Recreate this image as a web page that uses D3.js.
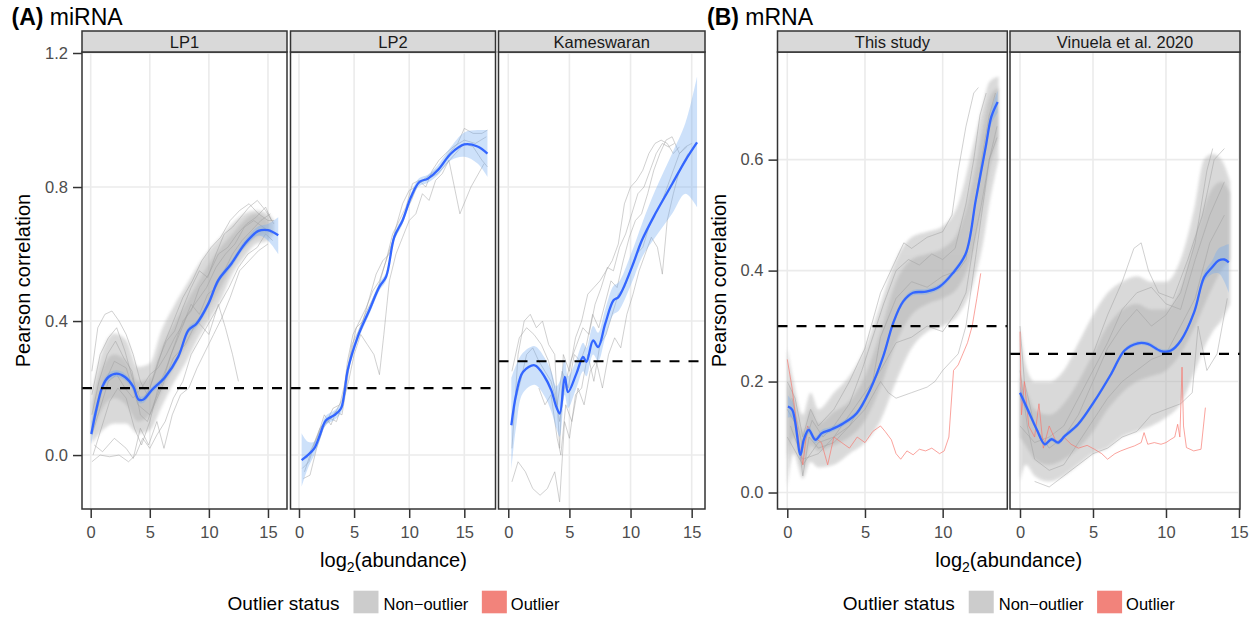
<!DOCTYPE html>
<html>
<head>
<meta charset="utf-8">
<script src="https://cdn.jsdelivr.net/npm/d3@7"></script>
<style>
  body { margin: 0; background: #fff; }
  svg text { font-family: "Liberation Sans", Arial, Helvetica, sans-serif; }
</style>
</head>
<body>
<svg id="chart" width="1249" height="619"></svg>
<script>
// ---------- data ----------
const xTicks = [0, 5, 10, 15]
const yTicksA = [0.0, 0.4, 0.8, 1.2]
const yTicksB = [0.0, 0.2, 0.4, 0.6]
const panelsA = ["LP1", "LP2", "Kameswaran"]
const panelsB = ["This study", "Vinuela et al. 2020"]
const cutoffsA = [0.2, 0.2, 0.28]
const cutoffsB = [0.3, 0.25]
const legendLabels = ["Non\u2212outlier", "Outlier"]

// smooth fit: [x, y, lower, upper]
const lp1Fit = [[0.05,0.063,0.03,0.1],[0.5,0.14,0.125,0.155],[1.0,0.205,0.193,0.217],[1.5,0.233,0.222,0.244],
  [2.2,0.243,0.233,0.253],[2.9,0.233,0.223,0.243],[3.6,0.204,0.194,0.214],[4.05,0.166,0.156,0.176],
  [4.47,0.166,0.156,0.176],[5.17,0.194,0.185,0.203],[6.3,0.233,0.224,0.242],[7.4,0.293,0.284,0.302],
  [8.27,0.373,0.364,0.382],[8.97,0.393,0.384,0.402],[9.96,0.452,0.443,0.461],[10.8,0.522,0.513,0.531],
  [11.9,0.571,0.561,0.581],[13.05,0.631,0.62,0.642],[14.2,0.669,0.655,0.683],[15.0,0.671,0.64,0.69],
  [15.87,0.656,0.6,0.71]]
const lp2Fit = [[0.24,-0.015,-0.095,0.065],[0.8,0.0,-0.04,0.04],[1.39,0.02,0.0,0.04],[1.9,0.06,0.045,0.075],
  [2.45,0.104,0.09,0.118],[3.2,0.119,0.105,0.133],[3.81,0.139,0.125,0.153],[4.11,0.184,0.17,0.198],
  [4.42,0.253,0.24,0.266],[5.33,0.353,0.34,0.366],[6.38,0.432,0.42,0.444],[7.29,0.502,0.49,0.514],
  [7.9,0.532,0.52,0.544],[8.65,0.651,0.64,0.662],[9.41,0.701,0.69,0.712],[10.16,0.77,0.758,0.782],
  [10.92,0.815,0.803,0.827],[11.68,0.825,0.813,0.837],[12.59,0.85,0.835,0.865],[13.79,0.9,0.88,0.92],
  [15.0,0.927,0.89,0.963],[16.2,0.921,0.87,0.97],[17.1,0.9,0.83,0.97]]
const kamFit = [[0.25,0.089,-0.045,0.23],[0.66,0.184,0.09,0.27],[1.2,0.248,0.185,0.305],[2.16,0.268,0.21,0.325],
  [2.98,0.233,0.175,0.29],[3.52,0.193,0.13,0.25],[3.93,0.144,0.08,0.205],[4.21,0.124,0.055,0.22],
  [4.62,0.233,0.18,0.285],[4.89,0.188,0.14,0.235],[5.57,0.243,0.2,0.285],[6.12,0.293,0.25,0.335],
  [6.39,0.278,0.235,0.32],[6.94,0.342,0.3,0.385],[7.35,0.322,0.28,0.365],[7.93,0.392,0.35,0.435],
  [8.61,0.462,0.42,0.505],[9.02,0.472,0.43,0.515],[10.11,0.561,0.515,0.607],[10.93,0.641,0.59,0.69],
  [12.02,0.72,0.65,0.79],[13.4,0.809,0.72,0.9],[14.48,0.879,0.78,0.99],[15.44,0.933,0.74,1.13]]
const studyFit = [[0.04,0.155,0.135,0.175],[0.32,0.149,0.135,0.163],[0.85,0.068,0.058,0.078],[1.06,0.095,0.087,0.103],
  [1.38,0.113,0.106,0.12],[1.81,0.095,0.089,0.101],[2.23,0.107,0.101,0.113],[2.77,0.113,0.108,0.118],
  [3.62,0.125,0.12,0.13],[4.47,0.143,0.138,0.148],[5.32,0.185,0.18,0.19],[6.17,0.245,0.24,0.25],
  [6.81,0.305,0.3,0.31],[7.45,0.344,0.339,0.349],[8.09,0.36,0.355,0.365],[8.94,0.362,0.357,0.367],
  [9.79,0.371,0.366,0.376],[10.64,0.395,0.39,0.4],[11.49,0.431,0.425,0.437],[12.13,0.527,0.52,0.534],
  [12.77,0.623,0.613,0.633],[13.13,0.677,0.664,0.69],[13.54,0.704,0.685,0.724]]
const vinuelaFit = [[0,0.18,0.168,0.192],[0.57,0.147,0.14,0.154],[1.14,0.114,0.109,0.119],[1.7,0.087,0.083,0.091],
  [2.16,0.096,0.092,0.1],[2.61,0.09,0.086,0.094],[3.07,0.102,0.098,0.106],[3.98,0.123,0.119,0.127],
  [5.11,0.165,0.161,0.169],[6.25,0.214,0.21,0.218],[7.16,0.256,0.252,0.26],[8.07,0.269,0.265,0.273],
  [8.75,0.268,0.264,0.272],[9.66,0.255,0.251,0.259],[10.34,0.256,0.252,0.26],[11.02,0.274,0.27,0.278],
  [11.93,0.325,0.32,0.33],[12.61,0.388,0.38,0.396],[13.16,0.406,0.394,0.418],[13.6,0.418,0.395,0.44],
  [14.0,0.42,0.38,0.445],[14.3,0.415,0.36,0.448]]

// dense bundle of per-sample curves: [x, lower, upper]
const lp1Outer = [[0.1,0.035,0.19],[1,0.074,0.313],[2,0.094,0.363],[3,0.094,0.343],[4,0.064,0.263],[5,0.074,0.273],
  [6,0.144,0.373],[7,0.214,0.442],[8,0.273,0.502],[9,0.343,0.561],[10,0.402,0.611],[11,0.462,0.651],
  [12,0.541,0.691],[13,0.591,0.72],[14,0.631,0.73],[15,0.64,0.72],[15.5,0.66,0.7]]
const lp1Inner = [[0.1,0.06,0.15],[1,0.14,0.26],[2,0.17,0.3],[3,0.15,0.28],[4,0.1,0.22],[5,0.12,0.23],
  [6,0.19,0.32],[7,0.26,0.39],[8,0.32,0.45],[9,0.38,0.51],[10,0.44,0.57],[11,0.5,0.62],[12,0.57,0.66],
  [13,0.62,0.7],[14,0.65,0.72],[15,0.66,0.7]]
const studyOuter = [[0,0.01,0.26],[0.4,0.07,0.2],[1,0.025,0.14],[1.5,0.055,0.18],[2,0.045,0.15],[3,0.05,0.18],
  [4,0.07,0.21],[5,0.09,0.26],[6,0.13,0.34],[7,0.2,0.42],[8,0.26,0.46],[9,0.29,0.47],[10,0.3,0.48],
  [11,0.32,0.52],[12,0.38,0.63],[12.6,0.45,0.7],[13,0.52,0.74],[13.6,0.6,0.75]]
const studyInner = [[0,0.06,0.2],[0.4,0.1,0.17],[1,0.045,0.11],[1.5,0.085,0.15],[2,0.075,0.125],[3,0.085,0.145],
  [4,0.1,0.165],[5,0.13,0.21],[6,0.19,0.29],[7,0.27,0.38],[8,0.32,0.42],[9,0.34,0.43],[10,0.35,0.44],
  [11,0.37,0.47],[12,0.44,0.57],[12.6,0.52,0.66],[13,0.58,0.71],[13.6,0.64,0.73]]
const vinuelaOuter = [[0,0.02,0.3],[0.4,0.05,0.23],[1,0.03,0.2],[2,0.02,0.2],[3,0.03,0.22],[4,0.05,0.27],
  [5,0.07,0.32],[6,0.08,0.36],[7,0.1,0.38],[8,0.11,0.39],[9,0.12,0.38],[10,0.135,0.38],[11,0.16,0.42],
  [12,0.22,0.52],[12.6,0.26,0.6],[13.2,0.29,0.61],[13.8,0.31,0.6],[14.4,0.34,0.56]]
const vinuelaInner = [[0,0.1,0.21],[0.5,0.08,0.18],[1,0.06,0.15],[2,0.05,0.14],[3,0.06,0.16],[4,0.08,0.2],
  [5,0.11,0.25],[6,0.15,0.3],[7,0.18,0.33],[8,0.2,0.34],[9,0.21,0.33],[10,0.22,0.33],[11,0.25,0.37],
  [12,0.3,0.46],[13,0.36,0.54],[13.8,0.4,0.56],[14.4,0.42,0.54]]

// individual non-outlier curves: [x, y]
const lp1Lines = [
  [[0.1,0.25],[0.6,0.38],[1.2,0.42],[1.8,0.43],[2.4,0.4],[3.0,0.36],[3.6,0.3],[4.2,0.22],[4.8,0.18],[5.5,0.25],[6.2,0.33],[7.0,0.4],[7.8,0.47],[8.6,0.52],[9.4,0.58],[10.2,0.62],[11.0,0.65],[11.8,0.7],[12.6,0.73],[13.4,0.75],[14.2,0.72],[15.0,0.7],[15.5,0.7]],
  [[0.1,-0.02],[0.8,0.0],[1.6,-0.005],[2.4,0.0],[3.2,-0.02],[3.8,0.0],[4.4,0.05],[5.0,0.02],[5.6,0.06],[6.3,0.1],[7.0,0.17],[7.8,0.22],[8.5,0.3],[9.3,0.35],[10.1,0.4],[10.9,0.45],[11.7,0.5],[12.5,0.56],[13.3,0.6],[14.1,0.62],[14.8,0.66],[15.4,0.64]],
  [[0.2,0.08],[1,0.2],[2,0.28],[3,0.26],[4,0.15],[5,0.12],[6,0.2],[7,0.29],[8,0.33],[9,0.4],[10,0.36],[10.8,0.45],[11.4,0.38],[12,0.3],[12.5,0.22]],
  [[0.1,0.12],[0.7,0.22],[1.4,0.3],[2.1,0.34],[2.8,0.29],[3.5,0.25],[4.2,0.12],[4.8,0.1],[5.4,0.16],[6.1,0.22],[6.8,0.3],[7.5,0.36],[8.2,0.42],[9.0,0.46],[9.8,0.5],[10.6,0.56],[11.4,0.6],[12.2,0.63],[13.0,0.68],[13.8,0.7],[14.6,0.68],[15.4,0.66]],
  [[0.2,0.0],[0.9,0.08],[1.6,0.16],[2.3,0.2],[3.0,0.17],[3.7,0.08],[4.3,0.03],[5.0,0.1],[5.7,0.2],[6.4,0.26],[7.1,0.33],[7.8,0.4],[8.5,0.43],[9.2,0.5],[10.0,0.54],[10.8,0.6],[11.6,0.62],[12.4,0.66],[13.2,0.69],[14.0,0.71],[14.8,0.74],[15.3,0.7]],
  [[0.1,0.18],[0.8,0.3],[1.5,0.35],[2.2,0.38],[2.9,0.31],[3.6,0.22],[4.3,0.16],[5.0,0.2],[5.7,0.28],[6.4,0.34],[7.1,0.37],[7.8,0.44],[8.5,0.5],[9.2,0.55],[9.9,0.53],[10.6,0.6],[11.3,0.66],[12.0,0.68],[12.7,0.71],[13.4,0.74],[14.1,0.76],[14.8,0.73],[15.5,0.69]],
  [[0.3,0.03],[1.0,0.01],[2.0,0.05],[3.0,0.02],[3.6,-0.01],[4.2,0.08],[4.9,0.03],[5.6,0.1],[6.2,0.02],[6.9,0.12],[7.6,0.18],[8.3,0.2],[9.0,0.26],[9.7,0.31],[10.4,0.36],[11.1,0.41],[11.8,0.47],[12.6,0.55],[13.4,0.58],[14.2,0.61],[15.0,0.63]],
  [[0.1,0.06],[0.8,0.14],[1.5,0.22],[2.2,0.24],[2.9,0.2],[3.6,0.17],[4.3,0.2],[5.0,0.24],[5.7,0.26],[6.4,0.3],[7.1,0.35],[7.8,0.39],[8.5,0.45],[9.2,0.42],[9.9,0.48],[10.6,0.5],[11.3,0.55],[12.0,0.6],[12.8,0.64],[13.6,0.67],[14.4,0.7],[15.2,0.72]]
]
const lp2Lines = [
  [[0.3,-0.04],[0.9,-0.02],[1.5,0.04],[2.1,0.09],[2.7,0.1],[3.3,0.13],[3.9,0.12],[4.3,0.2],[4.7,0.3],[5.2,0.38],[5.8,0.4],[6.4,0.47],[7.0,0.54],[7.6,0.58],[8.2,0.6],[8.8,0.68],[9.4,0.75],[10.0,0.79],[10.6,0.8],[11.2,0.82],[12.0,0.84],[12.8,0.86],[13.6,0.9],[14.4,0.93],[15.0,0.975],[15.8,0.96],[16.6,0.96],[17.1,0.97]],
  [[0.4,-0.07],[1.0,-0.06],[1.6,0.02],[2.2,0.08],[2.8,0.11],[3.4,0.1],[4.0,0.16],[4.5,0.22],[5.0,0.3],[5.6,0.36],[6.2,0.33],[6.8,0.3],[7.3,0.24],[7.7,0.36],[8.2,0.52],[8.8,0.6],[9.4,0.65],[10.0,0.7],[10.6,0.72],[11.2,0.78],[11.8,0.76],[12.4,0.82],[13.0,0.84],[13.6,0.88],[14.6,0.72],[15.6,0.8],[16.8,0.87]],
  [[0.5,-0.05],[1.1,0.01],[1.7,0.06],[2.3,0.12],[2.9,0.09],[3.5,0.14],[4.0,0.17],[4.4,0.28],[4.9,0.36],[5.5,0.4],[6.1,0.44],[6.7,0.49],[7.3,0.52],[7.9,0.58],[8.5,0.66],[9.1,0.7],[9.7,0.74],[10.3,0.81],[10.9,0.82],[11.5,0.8],[12.1,0.85],[12.7,0.88],[13.3,0.9],[14.0,0.92],[15.0,0.94],[16.0,0.93],[17.0,0.95]],
  [[0.7,-0.01],[1.3,0.03],[1.9,0.08],[2.5,0.1],[3.1,0.14],[3.7,0.15],[4.2,0.22],[4.8,0.33],[5.4,0.37],[6.0,0.42],[6.6,0.46],[7.2,0.5],[7.8,0.57],[8.4,0.63],[9.0,0.67],[9.6,0.72],[10.2,0.76],[10.8,0.81],[11.4,0.82],[12.0,0.83],[12.6,0.84],[13.4,0.87],[14.2,0.9],[15.0,0.93],[15.8,0.92],[16.6,0.88],[17.1,0.86]]
]
const kamLines = [
  [[0.3,0.02],[0.8,0.3],[1.3,0.4],[1.8,0.42],[2.3,0.38],[2.8,0.4],[3.3,0.33],[3.8,0.3],[4.2,0.02],[4.5,0.3],[5.0,0.25],[5.5,0.35],[6.0,0.4],[6.5,0.48],[7.0,0.5],[7.5,0.52],[8.0,0.55],[8.5,0.58],[9.0,0.63],[9.5,0.75],[10.0,0.8],[10.5,0.82],[11.0,0.85],[11.5,0.9],[12.0,0.93],[12.5,0.94],[13.0,0.93],[13.5,0.9],[14.0,0.92]],
  [[0.3,-0.08],[0.8,-0.02],[1.4,-0.05],[2.0,-0.1],[2.6,-0.12],[3.2,-0.1],[3.8,-0.05],[4.2,-0.14],[4.6,0.1],[5.0,0.05],[5.5,0.18],[6.0,0.2],[6.5,0.3],[7.0,0.22],[7.5,0.33],[8.0,0.36],[8.5,0.42],[9.0,0.48],[9.5,0.5],[10.0,0.55],[10.5,0.6],[11.0,0.62],[11.5,0.68],[12.0,0.72],[12.5,0.75],[13.0,0.8],[13.5,0.85],[14.0,0.9],[14.5,0.92],[15.0,0.93]],
  [[0.3,0.25],[0.9,0.35],[1.5,0.38],[2.1,0.36],[2.7,0.33],[3.3,0.28],[3.8,0.2],[4.2,0.1],[4.6,0.2],[5.1,0.28],[5.6,0.33],[6.1,0.38],[6.6,0.36],[7.1,0.45],[7.6,0.5],[8.1,0.56],[8.6,0.55],[9.1,0.62],[9.6,0.66],[10.1,0.72],[10.6,0.78],[11.1,0.8],[11.6,0.85],[12.1,0.9],[12.6,0.93],[13.1,0.92],[13.6,0.93]],
  [[2.5,0.2],[3.0,0.15],[3.5,0.18],[4.0,0.05],[4.3,0.0],[4.7,0.15],[5.2,0.1],[5.7,0.2],[6.2,0.15],[6.7,0.25],[7.2,0.28],[7.7,0.2],[8.2,0.3],[8.7,0.35],[9.2,0.32],[9.7,0.42],[10.2,0.48],[10.7,0.55],[11.2,0.6],[11.7,0.65],[12.2,0.62],[12.6,0.54],[13.0,0.7],[13.5,0.78],[14.0,0.85],[14.7,0.9]],
  [[0.5,0.15],[1.0,0.22],[1.5,0.3],[2.0,0.32],[2.5,0.28],[3.0,0.25],[3.5,0.22],[4.0,0.15],[4.4,0.25],[4.9,0.2],[5.4,0.3],[5.9,0.28],[6.4,0.33],[6.9,0.42],[7.4,0.38],[7.9,0.45],[8.4,0.52],[8.9,0.5],[9.4,0.58],[9.9,0.65],[10.4,0.7],[10.9,0.72],[11.4,0.78],[11.9,0.85],[12.4,0.9],[12.9,0.94],[13.4,0.95],[14.0,0.9],[14.6,0.92]]
]
const studyLines = [
  [[0,0.2],[0.5,0.17],[1,0.1],[1.5,0.15],[2,0.12],[3,0.15],[4,0.2],[5,0.26],[6,0.36],[7,0.42],[7.5,0.45],[8,0.44],[9,0.46],[10,0.47],[10.6,0.5],[11,0.58],[11.5,0.66],[12,0.72],[12.3,0.73]],
  [[0,0.1],[1,0.05],[2,0.09],[3,0.1],[4,0.12],[5,0.15],[6,0.2],[6.5,0.18],[7,0.17],[8,0.18],[9,0.19],[9.5,0.2],[10,0.22],[11,0.25],[11.5,0.3],[12,0.4],[12.5,0.5],[13,0.6],[13.5,0.66]],
  [[0,0.15],[0.6,0.12],[1,0.03],[1.4,0.1],[2,0.08],[3,0.09],[4,0.12],[5,0.17],[5.5,0.2],[6,0.28],[7,0.35],[8,0.38],[9,0.37],[10,0.39],[11,0.4],[11.5,0.42],[12,0.5],[12.5,0.6],[13,0.68],[13.4,0.72]],
  [[0.2,0.12],[1,0.06],[2,0.07],[3,0.1],[4,0.14],[5,0.18],[6,0.22],[7,0.27],[8,0.28],[9,0.3],[10,0.29],[11,0.33],[11.5,0.36],[12,0.45],[12.5,0.52],[13,0.6],[13.5,0.64]],
  [[0.3,0.17],[1,0.08],[1.6,0.13],[2.3,0.1],[3,0.12],[4,0.16],[4.8,0.22],[5.5,0.28],[6.2,0.34],[7,0.4],[7.8,0.42],[8.5,0.41],[9.3,0.43],[10,0.42],[10.8,0.44],[11.5,0.52],[12,0.6],[12.4,0.68],[12.8,0.72]]
]
const vinuelaLines = [
  [[5,0.25],[6,0.32],[7,0.38],[7.8,0.44],[8.3,0.45],[8.8,0.4],[9.5,0.36],[10.5,0.35],[11.5,0.42],[12.5,0.5],[13.3,0.6],[14,0.62]],
  [[1,0.02],[2,0.01],[3,0.03],[4,0.05],[5,0.07],[6,0.08],[7,0.1],[8,0.11],[9,0.14],[10,0.15],[11,0.16],[11.8,0.18],[12.2,0.3],[12.8,0.22],[13.5,0.25],[14.2,0.35]],
  [[0,0.3],[0.3,0.2],[1,0.12],[2,0.08],[3,0.1],[4,0.14],[5,0.2],[6,0.26],[7,0.3],[8,0.33],[9,0.3],[10,0.32],[11,0.36],[12,0.45],[12.8,0.58],[13.2,0.62]],
  [[0,0.22],[0.5,0.12],[1,0.06],[2,0.04],[3,0.05],[4,0.09],[5,0.13],[6,0.17],[7,0.2],[8,0.22],[9,0.24],[10,0.25],[11,0.3],[12,0.35],[13,0.45],[14,0.5]],
  [[0,0.12],[1,0.09],[2,0.1],[3,0.12],[4,0.17],[5,0.22],[6,0.27],[7,0.33],[8,0.36],[9,0.37],[10,0.34],[11,0.33],[12,0.42],[13,0.5],[14,0.56]]
]

// outlier curves: [x, y]
const studyOutlier = [[0,0.24],[0.3,0.19],[0.7,0.1],[1.0,0.05],[1.3,0.12],[1.7,0.1],[2.2,0.09],[2.6,0.05],[3.0,0.1],
  [3.5,0.09],[4.0,0.08],[4.5,0.1],[5.0,0.09],[5.5,0.11],[6.0,0.12],[6.3,0.11],[6.7,0.095],[7.0,0.07],[7.3,0.06],
  [7.7,0.075],[8.1,0.068],[8.5,0.078],[8.9,0.075],[9.3,0.08],[9.8,0.07],[10.1,0.075],[10.4,0.1],[10.7,0.22],
  [11.0,0.23],[11.3,0.25],[11.6,0.27],[11.9,0.3],[12.2,0.35],[12.45,0.395]]
const vinuelaOutlier = [[0,0.29],[0.1,0.14],[0.3,0.2],[0.6,0.12],[1,0.1],[1.3,0.16],[1.6,0.08],[2,0.12],[2.5,0.09],
  [3,0.1],[3.5,0.087],[4,0.08],[4.6,0.085],[5.1,0.078],[5.6,0.07],[6.0,0.06],[6.5,0.07],[6.9,0.075],[7.4,0.08],
  [7.84,0.084],[8.3,0.09],[8.5,0.108],[8.75,0.087],[9.2,0.09],[9.66,0.087],[10.0,0.09],[10.34,0.096],[10.6,0.1],
  [10.8,0.123],[10.95,0.1],[11.1,0.226],[11.2,0.12],[11.4,0.081],[11.9,0.075],[12.4,0.078],[12.7,0.153]]

// ---------- layout ----------
const panelTop = 52
const panelBottom = 509
const stripTop = 31
const svg = d3.select("#chart")

const defs = svg.append("defs")
defs.append("filter").attr("id", "soft")
  .attr("x", "-5%").attr("y", "-5%").attr("width", "110%").attr("height", "110%")
  .append("feGaussianBlur").attr("stdDeviation", 1.6)

const yA = d3.scaleLinear().domain([-0.161, 1.203]).range([panelBottom, panelTop])
const yB = d3.scaleLinear().domain([-0.0297, 0.794]).range([panelBottom, panelTop])

const panels = [
  {name: panelsA[0], left: 82, right: 287, xDomain: [-0.736, 16.61], y: yA, cut: cutoffsA[0],
   fit: lp1Fit, bands: [lp1Outer, lp1Inner], lines: lp1Lines, outliers: []},
  {name: panelsA[1], left: 290.5, right: 495.5, xDomain: [-0.77, 17.83], y: yA, cut: cutoffsA[1],
   fit: lp2Fit, bands: [], lines: lp2Lines, outliers: []},
  {name: panelsA[2], left: 498.5, right: 705, xDomain: [-0.8, 16.09], y: yA, cut: cutoffsA[2],
   fit: kamFit, bands: [], lines: kamLines, outliers: []},
  {name: panelsB[0], left: 777.5, right: 1007.3, xDomain: [-0.63, 14.16], y: yB, cut: cutoffsB[0],
   fit: studyFit, bands: [studyOuter, studyInner], lines: studyLines, outliers: [studyOutlier]},
  {name: panelsB[1], left: 1010, right: 1240, xDomain: [-0.685, 15.07], y: yB, cut: cutoffsB[1],
   fit: vinuelaFit, bands: [vinuelaOuter, vinuelaInner], lines: vinuelaLines, outliers: [vinuelaOutlier]}
]

function styleAxis(g) {
  g.select(".domain").remove()
  g.selectAll(".tick line").attr("stroke", "#333").attr("stroke-width", 1.5)
  g.selectAll(".tick text").attr("fill", "#4d4d4d").style("font-size", "16.5px")
    .style("font-family", '"Liberation Sans", Arial, sans-serif')
}

panels.forEach((p, i) => {
  const x = d3.scaleLinear().domain(p.xDomain).range([p.left, p.right])
  const y = p.y
  const clipId = "clip" + i
  defs.append("clipPath").attr("id", clipId).append("rect")
    .attr("x", p.left).attr("y", panelTop)
    .attr("width", p.right - p.left).attr("height", panelBottom - panelTop)

  const g = svg.append("g").attr("clip-path", `url(#${clipId})`)
  const xt = xTicks.filter(t => t >= p.xDomain[0] && t <= p.xDomain[1])
  const yt = (y === yA ? yTicksA : yTicksB)

  // grid
  g.selectAll(".vg").data(xt).join("line")
    .attr("x1", d => x(d)).attr("x2", d => x(d))
    .attr("y1", panelTop).attr("y2", panelBottom)
    .attr("stroke", "#ebebeb").attr("stroke-width", 1.6)
  g.selectAll(".hg").data(yt).join("line")
    .attr("x1", p.left).attr("x2", p.right)
    .attr("y1", d => y(d)).attr("y2", d => y(d))
    .attr("stroke", "#ebebeb").attr("stroke-width", 1.6)

  // bundle of sample curves
  const band = d3.area().x(d => x(d[0])).y0(d => y(d[1])).y1(d => y(d[2])).curve(d3.curveMonotoneX)
  p.bands.forEach(b => {
    g.append("path").attr("d", band(b))
      .attr("fill", "#adadad").attr("opacity", 0.45).attr("filter", "url(#soft)")
  })
  const line = d3.line().x(d => x(d[0])).y(d => y(d[1]))
  p.lines.forEach(l => {
    g.append("path").attr("d", line(l))
      .attr("fill", "none").attr("stroke", "#a0a0a0").attr("stroke-width", 0.9).attr("opacity", 0.55)
  })
  p.outliers.forEach(l => {
    g.append("path").attr("d", line(l))
      .attr("fill", "none").attr("stroke", "#F8766D").attr("stroke-width", 0.9).attr("opacity", 0.75)
  })

  // smooth + ribbon
  const ribbon = d3.area().x(d => x(d[0])).y0(d => y(d[2])).y1(d => y(d[3])).curve(d3.curveCatmullRom)
  g.append("path").attr("d", ribbon(p.fit)).attr("fill", "#6fa8f0").attr("opacity", 0.35)
  const fitLine = d3.line().x(d => x(d[0])).y(d => y(d[1])).curve(d3.curveCatmullRom)
  g.append("path").attr("d", fitLine(p.fit))
    .attr("fill", "none").attr("stroke", "#3366FF").attr("stroke-width", 2.3)

  // cut-off
  g.append("line")
    .attr("x1", p.left).attr("x2", p.right)
    .attr("y1", y(p.cut)).attr("y2", y(p.cut))
    .attr("stroke", "#000").attr("stroke-width", 2.2).attr("stroke-dasharray", "10,9")

  // border
  svg.append("rect").attr("x", p.left).attr("y", panelTop)
    .attr("width", p.right - p.left).attr("height", panelBottom - panelTop)
    .attr("fill", "none").attr("stroke", "#333").attr("stroke-width", 1.5)

  // strip
  svg.append("rect").attr("x", p.left).attr("y", stripTop)
    .attr("width", p.right - p.left).attr("height", panelTop - stripTop)
    .attr("fill", "#d9d9d9").attr("stroke", "#333").attr("stroke-width", 1.5)
  svg.append("text").attr("x", (p.left + p.right) / 2).attr("y", 48)
    .attr("text-anchor", "middle").attr("font-size", 16.5).attr("fill", "#1a1a1a")
    .text(p.name)

  // x axis
  const xAxis = svg.append("g").attr("transform", `translate(0,${panelBottom})`)
    .call(d3.axisBottom(x).tickValues(xt).tickSize(9).tickPadding(8).tickFormat(d3.format("d")))
  styleAxis(xAxis)
})

// y axes, titles and legend for each half
function drawGroup(first, last, y, ticks, tag, label) {
  const yAxis = svg.append("g").attr("transform", `translate(${first.left},0)`)
    .call(d3.axisLeft(y).tickValues(ticks).tickSize(9).tickPadding(5).tickFormat(d3.format(".1f")))
  styleAxis(yAxis)

  svg.append("text")
    .attr("transform", `translate(${first.left - 59},${(panelTop + panelBottom) / 2}) rotate(-90)`)
    .attr("text-anchor", "middle").attr("dominant-baseline", "central")
    .attr("font-size", 20).attr("fill", "#000").text("Pearson correlation")

  const cx = (first.left + last.right) / 2
  const xt = svg.append("text").attr("x", cx).attr("y", 567)
    .attr("text-anchor", "middle").attr("font-size", 20).attr("fill", "#000")
  xt.append("tspan").text("log")
  xt.append("tspan").attr("font-size", 14).attr("dy", 5).text("2")
  xt.append("tspan").attr("dy", -5).text("(abundance)")

  const t = svg.append("text").attr("x", first.left - 70.5).attr("y", 24.5)
    .attr("font-size", 23).attr("fill", "#000")
  t.append("tspan").attr("font-weight", "bold").text(tag)
  t.append("tspan").text(" " + label)

  // legend
  const lg = svg.append("g")
  const title = lg.append("text").attr("y", 610).attr("font-size", 19).attr("fill", "#000").text("Outlier status")
  const tw = title.node().getComputedTextLength()
  const keyColors = ["#cccccc", "#f2837b"]
  let pos = tw + 14
  legendLabels.forEach((lab, k) => {
    lg.append("rect").attr("x", pos).attr("y", 590.7).attr("width", 25).attr("height", 22.6)
      .attr("fill", keyColors[k])
    pos += 25 + (k === 0 ? 5 : 4)
    const txt = lg.append("text").attr("x", pos).attr("y", 609.5).attr("font-size", 16.5).attr("fill", "#000").text(lab)
    pos += txt.node().getComputedTextLength() + 13.5
  })
  const total = pos - 13.5
  lg.attr("transform", `translate(${cx - total / 2},0)`)
}

drawGroup(panels[0], panels[2], yA, yTicksA, "(A)", "miRNA")
drawGroup(panels[3], panels[4], yB, yTicksB, "(B)", "mRNA")
</script>
</body>
</html>
